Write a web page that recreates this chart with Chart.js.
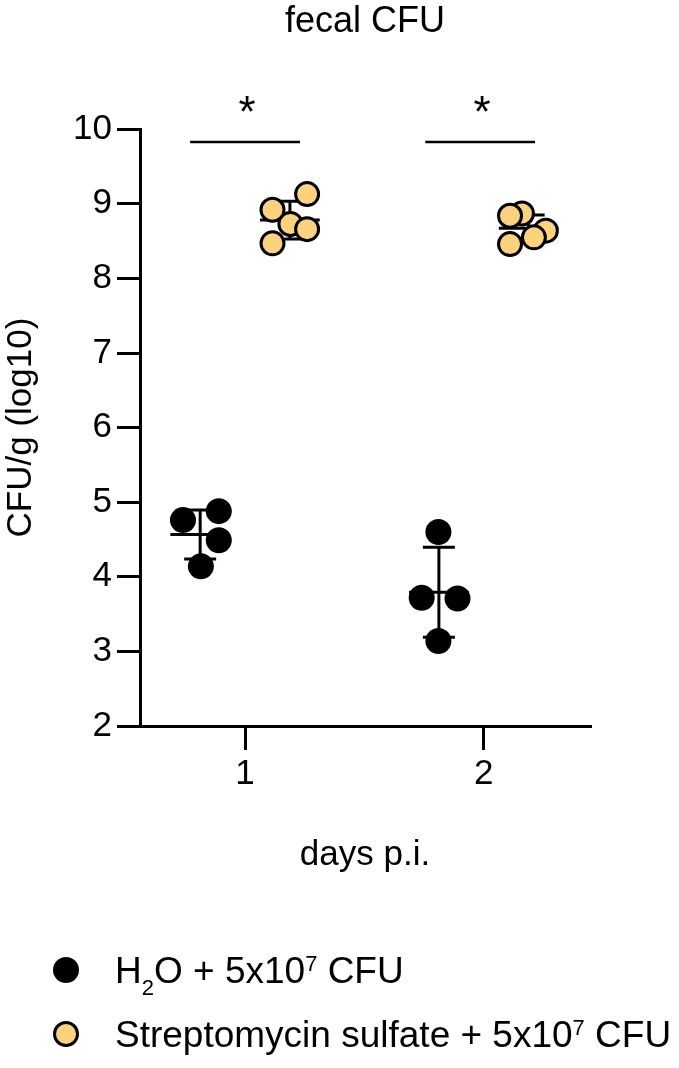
<!DOCTYPE html>
<html>
<head>
<meta charset="utf-8">
<script src="https://cdn.jsdelivr.net/npm/chart.js@4"></script>
<style>
  html, body { margin: 0; padding: 0; background: #fff; }
  canvas { display: block; }
</style>
</head>
<body>
<canvas id="cfuChart" width="679" height="1068"></canvas>
<script>
// === Data (log10 CFU/g per mouse) ===
const days = [1, 2];
const xTicks = [1, 2];
const yTicks = [2, 3, 4, 5, 6, 7, 8, 9, 10];

// x positions are the jittered column positions, one list per day
const h2oX = [[0.74, 0.89, 0.89, 0.815], [1.81, 1.74, 1.89, 1.81]];
const h2oY = [[4.76, 4.88, 4.49, 4.14], [4.60, 3.72, 3.71, 3.14]];
const strepX = [[1.19, 1.115, 1.26, 1.26, 1.115], [2.16, 2.11, 2.26, 2.21, 2.11]];
const strepY = [[8.73, 8.92, 9.13, 8.66, 8.47], [8.87, 8.84, 8.64, 8.55, 8.46]];

const seriesLabels = ['H\u2082O + 5x10\u2077 CFU', 'Streptomycin sulfate + 5x10\u2077 CFU'];
const sigBars = [[0.77, 1.23], [1.755, 2.215]];
const sigLevel = 9.83;
const sigLabels = ['*', '*'];

const FONT = "'Liberation Sans', Arial, Helvetica, sans-serif";
const YELLOW = '#fcd27f';

Chart.defaults.font.family = FONT;
Chart.defaults.color = '#000';

function toPoints(xs, ys) {
  const pts = [];
  xs.forEach((row, d) => row.forEach((x, i) => pts.push({ x: x, y: ys[d][i] })));
  return pts;
}

function meanSd(vals) {
  const m = vals.reduce((a, b) => a + b, 0) / vals.length;
  const v = vals.reduce((a, b) => a + (b - m) * (b - m), 0) / (vals.length - 1);
  return { m: m, sd: Math.sqrt(v) };
}

// mean +/- SD bars, drawn under the points
const errorBars = {
  id: 'errorBars',
  beforeDatasetsDraw(chart) {
    const { ctx, scales: { x, y } } = chart;
    const groups = [[h2oY, -0.188], [strepY, 0.188]];
    ctx.save();
    ctx.strokeStyle = '#000';
    ctx.lineWidth = 3;
    groups.forEach(([ys, off]) => {
      days.forEach((day, d) => {
        const s = meanSd(ys[d]);
        const cx = day + off;
        const line = (x1, y1, x2, y2) => {
          ctx.beginPath();
          ctx.moveTo(x.getPixelForValue(x1), y.getPixelForValue(y1));
          ctx.lineTo(x.getPixelForValue(x2), y.getPixelForValue(y2));
          ctx.stroke();
        };
        line(cx, s.m - s.sd, cx, s.m + s.sd);
        line(cx - 0.125, s.m, cx + 0.125, s.m);
        line(cx - 0.067, s.m + s.sd, cx + 0.067, s.m + s.sd);
        line(cx - 0.067, s.m - s.sd, cx + 0.067, s.m - s.sd);
      });
    });
    ctx.restore();
  }
};

// significance lines + stars, and the legend below the axis title
const annotations = {
  id: 'annotations',
  afterDraw(chart) {
    const { ctx, scales: { x, y } } = chart;
    ctx.save();
    ctx.strokeStyle = '#000';
    ctx.lineWidth = 2.5;
    sigBars.forEach((b, i) => {
      const py = y.getPixelForValue(sigLevel);
      ctx.beginPath();
      ctx.moveTo(x.getPixelForValue(b[0]), py);
      ctx.lineTo(x.getPixelForValue(b[1]), py);
      ctx.stroke();
      ctx.fillStyle = '#000';
      ctx.font = '44px ' + FONT;
      ctx.textAlign = 'center';
      ctx.textBaseline = 'alphabetic';
      ctx.fillText(sigLabels[i], x.getPixelForValue((b[0] + b[1]) / 2) + 2, py - 15);
    });

    // legend
    const rows = [970, 1034];
    const parts = [
      [['H'], ['2', 'sub'], ['O + 5x10'], ['7', 'sup'], [' CFU']],
      [['Streptomycin sulfate + 5x10'], ['7', 'sup'], [' CFU']]
    ];
    const fills = ['#000', YELLOW];
    rows.forEach((ry, i) => {
      ctx.beginPath();
      ctx.arc(66, ry, i === 0 ? 13 : 11.5, 0, Math.PI * 2);
      ctx.fillStyle = fills[i];
      ctx.fill();
      if (i === 1) { ctx.lineWidth = 3; ctx.strokeStyle = '#000'; ctx.stroke(); }
      let tx = 115;
      const base = ry + 13;
      ctx.fillStyle = '#000';
      ctx.textAlign = 'left';
      ctx.textBaseline = 'alphabetic';
      parts[i].forEach(([t, kind]) => {
        ctx.font = (kind ? '22px ' : '37px ') + FONT;
        const by = kind === 'sub' ? base + 12 : kind === 'sup' ? base - 12 : base;
        ctx.fillText(t, tx, by);
        tx += ctx.measureText(t).width;
      });
    });
    ctx.restore();
  }
};

const ctx = document.getElementById('cfuChart').getContext('2d');

new Chart(ctx, {
  type: 'scatter',
  data: {
    datasets: [
      {
        label: seriesLabels[0],
        data: toPoints(h2oX, h2oY),
        backgroundColor: '#000',
        borderColor: '#000',
        borderWidth: 0,
        pointRadius: 13,
        pointHoverRadius: 13
      },
      {
        label: seriesLabels[1],
        data: toPoints(strepX, strepY),
        backgroundColor: YELLOW,
        borderColor: '#000',
        borderWidth: 3,
        pointRadius: 11.5,
        pointHoverRadius: 11.5
      }
    ]
  },
  options: {
    responsive: false,
    animation: false,
    clip: false,
    layout: { padding: { left: 0, right: 89, top: 0, bottom: 192 } },
    plugins: {
      legend: { display: false },
      tooltip: { enabled: false },
      title: {
        display: true,
        fullSize: false,
        text: 'fecal CFU',
        color: '#000',
        font: { size: 36, weight: 'normal' },
        padding: { top: 0, bottom: 86 }
      }
    },
    scales: {
      x: {
        type: 'linear',
        min: 0.56,
        max: 2.445,
        afterBuildTicks: s => { s.ticks = xTicks.map(v => ({ value: v })); },
        afterFit: s => { s.height = 150; },
        border: { display: true, color: '#000', width: 3 },
        grid: { drawOnChartArea: false, drawTicks: true, tickLength: 24, lineWidth: 3, color: '#000' },
        ticks: { font: { size: 35 }, color: '#000', padding: 3 },
        title: { display: true, text: 'days p.i.', font: { size: 35 }, color: '#000', padding: { top: 0, bottom: 0 } }
      },
      y: {
        min: 2,
        max: 10,
        afterBuildTicks: s => { s.ticks = yTicks.map(v => ({ value: v })); },
        afterFit: s => { s.width = 140; },
        border: { display: true, color: '#000', width: 3 },
        grid: { drawOnChartArea: false, drawTicks: true, tickLength: 23, lineWidth: 3, color: '#000' },
        ticks: { font: { size: 35 }, color: '#000', padding: 5 },
        title: { display: true, text: 'CFU/g (log10)', font: { size: 35 }, color: '#000', padding: { top: 0, bottom: 0 } }
      }
    }
  },
  plugins: [errorBars, annotations]
});
</script>
</body>
</html>
